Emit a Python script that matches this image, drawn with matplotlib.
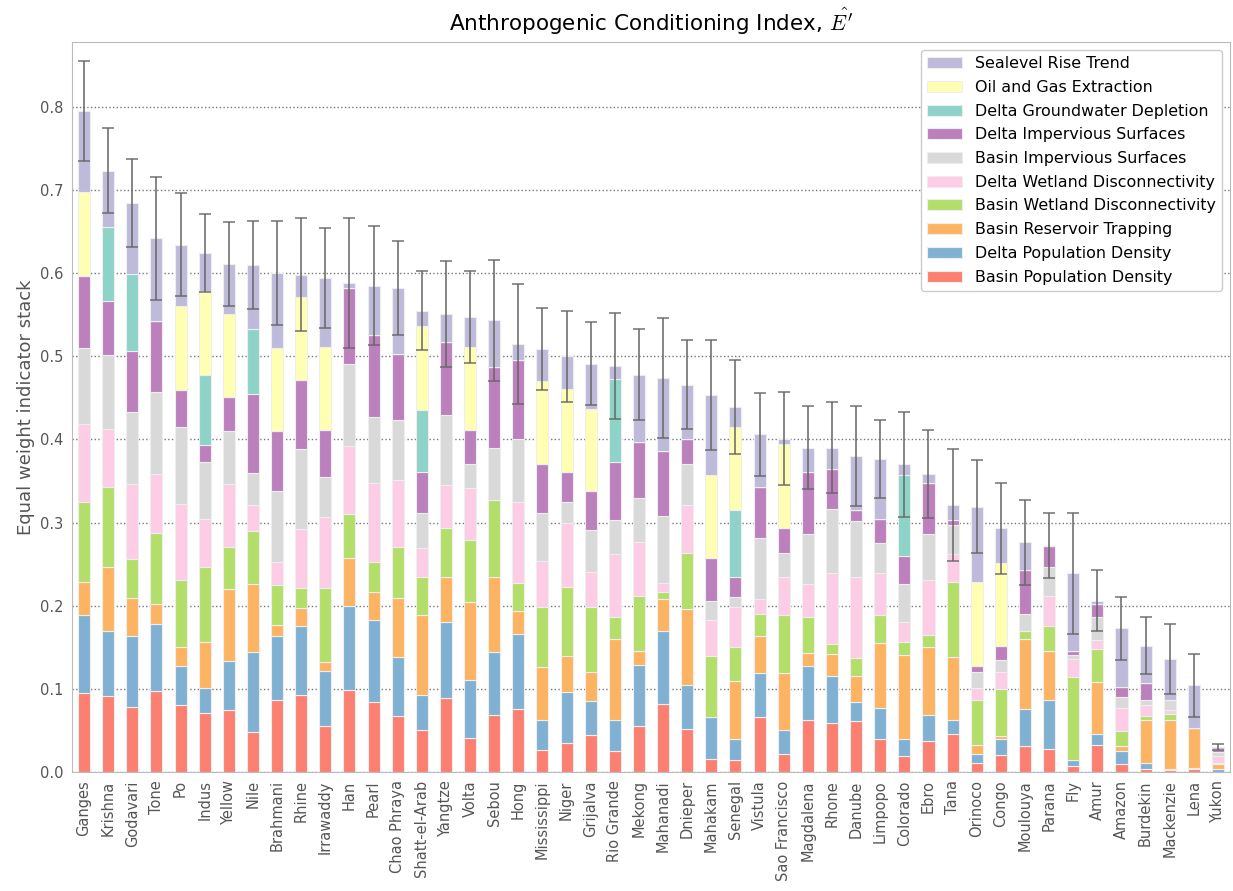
import numpy as np
import matplotlib
matplotlib.use("Agg")
import matplotlib.pyplot as plt

plt.rcParams['mathtext.fontset'] = 'cm'

#---------------données---------------
deltas = ['Ganges', 'Krishna', 'Godavari', 'Tone', 'Po', 'Indus', 'Yellow', 'Nile',
          'Brahmani', 'Rhine', 'Irrawaddy', 'Han', 'Pearl', 'Chao Phraya', 'Shatt-el-Arab',
          'Yangtze', 'Volta', 'Sebou', 'Hong', 'Mississippi', 'Niger', 'Grijalva',
          'Rio Grande', 'Mekong', 'Mahanadi', 'Dnieper', 'Mahakam', 'Senegal', 'Vistula',
          'Sao Francisco', 'Magdalena', 'Rhone', 'Danube', 'Limpopo', 'Colorado', 'Ebro',
          'Tana', 'Orinoco', 'Congo', 'Moulouya', 'Parana', 'Fly', 'Amur', 'Amazon',
          'Burdekin', 'Mackenzie', 'Lena', 'Yukon']

basin_pop = [.095, .091, .078, .097, .080, .071, .074, .048, .086, .093, .055, .099,
             .084, .067, .051, .089, .041, .069, .076, .026, .035, .044, .025, .055,
             .082, .052, .016, .014, .066, .022, .063, .059, .061, .040, .019, .037,
             .046, .011, .021, .031, .028, .007, .033, .010, .003, .002, .004, .000]
delta_pop = [.094, .079, .085, .081, .047, .030, .060, .096, .077, .082, .066, .101,
             .099, .071, .042, .091, .070, .075, .090, .036, .061, .041, .037, .074,
             .088, .052, .050, .026, .053, .029, .064, .056, .023, .037, .021, .032,
             .017, .011, .019, .045, .058, .007, .013, .015, .008, .001, .001, .003]
reservoir = [.039, .076, .046, .024, .023, .055, .086, .082, .014, .022, .011, .057,
             .033, .071, .096, .054, .093, .090, .028, .064, .043, .035, .098, .017,
             .038, .092, .000, .069, .044, .068, .016, .027, .032, .078, .101, .081,
             .075, .010, .003, .084, .059, .000, .062, .006, .052, .060, .048, .0065]
basin_wet = [.097, .097, .047, .085, .081, .090, .051, .064, .048, .024, .089, .053,
             .036, .062, .045, .059, .075, .093, .033, .072, .083, .078, .026, .066,
             .009, .067, .074, .041, .027, .070, .043, .012, .021, .034, .015, .015,
             .091, .055, .057, .009, .030, .100, .040, .018, .004, .007, .000, .001]
delta_wet = [.093, .069, .090, .071, .091, .058, .075, .031, .027, .071, .086, .082,
             .096, .080, .035, .052, .062, .000, .098, .056, .078, .042, .076, .065,
             .010, .058, .043, .049, .018, .045, .040, .085, .098, .050, .024, .066,
             .033, .014, .020, .000, .037, .022, .011, .028, .014, .004, .000, .0085]
basin_imp = [.092, .089, .087, .099, .093, .069, .064, .038, .086, .097, .048, .099,
             .079, .072, .042, .084, .030, .063, .076, .057, .025, .051, .041, .053,
             .081, .049, .023, .011, .073, .029, .060, .077, .067, .036, .046, .055,
             .035, .019, .015, .021, .034, .005, .027, .013, .005, .012, .000, .005]
delta_imp = [.086, .065, .073, .085, .044, .020, .041, .096, .072, .082, .056, .091,
             .099, .080, .050, .088, .040, .097, .094, .059, .036, .047, .070, .067,
             .078, .031, .051, .024, .062, .031, .075, .048, .013, .029, .034, .062,
             .006, .008, .016, .053, .026, .004, .016, .012, .021, .000, .000, .004]
groundwater = [.000, .089, .093, .000, .000, .085, .000, .078, .000, .000, .000, .000,
               .000, .000, .074, .000, .000, .000, .000, .000, .000, .000, .100, .000,
               .000, .000, .000, .081, .000, .000, .000, .000, .000, .000, .097, .000,
               .000, .000, .000, .000, .000, .000, .000, .000, .000, .000, .000, .000]
oil_gas = [.101, .000, .000, .000, .101, .100, .100, .000, .100, .100, .100, .000,
           .000, .000, .101, .000, .100, .000, .000, .100, .100, .099, .000, .000,
           .000, .000, .100, .100, .000, .100, .000, .000, .000, .000, .000, .000,
           .000, .100, .100, .000, .000, .000, .000, .000, .000, .000, .000, .000]
sealevel = [.098, .068, .085, .100, .074, .046, .060, .077, .090, .027, .083, .006,
            .059, .079, .019, .034, .036, .056, .020, .039, .039, .054, .015, .081,
            .088, .065, .096, .024, .063, .007, .029, .026, .065, .072, .013, .010,
            .018, .091, .042, .033, .000, .094, .004, .071, .045, .050, .051, .002]
erreur = [.060, .051, .053, .074, .062, .047, .050, .053, .063, .068, .060, .078,
          .072, .057, .048, .064, .055, .073, .072, .049, .055, .050, .064, .055,
          .072, .053, .066, .057, .050, .056, .050, .055, .060, .047, .063, .053,
          .067, .056, .055, .051, .039, .073, .037, .038, .034, .042, .038, .004]

composantes = [
    ('Basin Population Density', basin_pop, '#fb8072'),
    ('Delta Population Density', delta_pop, '#80b1d3'),
    ('Basin Reservoir Trapping', reservoir, '#fdb462'),
    ('Basin Wetland Disconnectivity', basin_wet, '#b3de69'),
    ('Delta Wetland Disconnectivity', delta_wet, '#fccde5'),
    ('Basin Impervious Surfaces', basin_imp, '#d9d9d9'),
    ('Delta Impervious Surfaces', delta_imp, '#bc80bd'),
    ('Delta Groundwater Depletion', groundwater, '#8dd3c7'),
    ('Oil and Gas Extraction', oil_gas, '#ffffb3'),
    ('Sealevel Rise Trend', sealevel, '#bebada'),
]

#---------------figure---------------
fig = plt.figure(figsize=(12.33, 8.91), dpi=100)
ax = fig.add_axes([0.0584, 0.1336, 0.9392, 0.8193])

x = np.arange(len(deltas))
bas = np.zeros(len(deltas))
for nom, valeurs, couleur in composantes:
    v = np.array(valeurs)
    ax.bar(x, v, 0.5, bottom=bas, color=couleur, label=nom,
           edgecolor='#eeeeee', linewidth=0.8)
    bas = bas + v

ax.errorbar(x, bas, yerr=erreur, fmt='none', ecolor='#666666', alpha=0.85,
            elinewidth=1.3, capsize=4, capthick=1.2)

ax.set_xlim(-0.5, len(deltas) - 0.5)
ax.set_ylim(0, 0.878)
ax.set_yticks(np.arange(0, 0.81, 0.1))
ax.set_yticklabels(['%.1f' % t for t in np.arange(0, 0.81, 0.1)])
ax.set_xticks(x)
ax.set_xticklabels(deltas, rotation=90)
ax.tick_params(length=0, labelsize=10.5, labelcolor='#555555', pad=6)
ax.yaxis.grid(True, linestyle=':', color='#777777', linewidth=1)
ax.set_axisbelow(True)
for s in ax.spines.values():
    s.set_color('#bbbbbb')

ax.set_ylabel('Equal weight indicator stack', fontsize=13, color='#555555')
ax.set_title(r"Anthropogenic Conditioning Index, $\hat{E'}$", fontsize=15.5, pad=8)

h, l = ax.get_legend_handles_labels()
ax.legend(h[::-1], l[::-1], loc='upper right', fontsize=11.4, framealpha=1,
          edgecolor='#cccccc', handlelength=2.2, labelspacing=0.55, borderaxespad=0.5)

fig.savefig('out.png', dpi=100)
